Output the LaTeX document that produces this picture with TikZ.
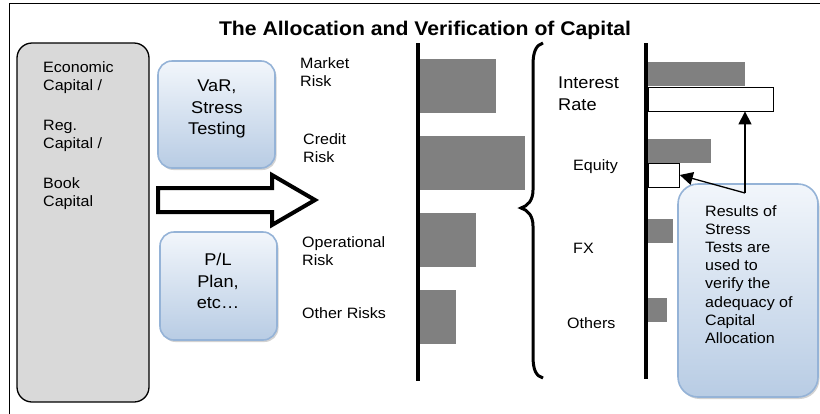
\documentclass[tikz,border=0pt]{standalone}
\usepackage{fontspec}
\setmainfont{Liberation Sans}[FakeStretch=1.07]
\usetikzlibrary{shapes.geometric, arrows.meta, shadows}
\definecolor{capgrey}{RGB}{217,217,217}
\definecolor{bargrey}{RGB}{128,128,128}
\definecolor{boxedge}{RGB}{149,179,215}
\definecolor{boxtop}{RGB}{242,246,251}
\definecolor{boxbottom}{RGB}{184,204,228}
\tikzstyle{capital} = [rectangle, rounded corners=15pt, draw=black, line width=1.3pt, fill=capgrey, minimum width=132pt, minimum height=359pt]
\tikzstyle{method} = [rectangle, rounded corners=14pt, draw=boxedge, line width=1.6pt, top color=boxtop, bottom color=boxbottom, drop shadow={shadow xshift=1.5pt, shadow yshift=-2pt, fill=gray!70}]
\tikzstyle{bar} = [rectangle, fill=bargrey, inner sep=0pt, anchor=west, minimum height=54pt]
\tikzstyle{stressbar} = [rectangle, draw=black, line width=0.8pt, fill=white, inner sep=0pt, anchor=west, minimum height=24pt]
\tikzstyle{txt} = [inner sep=0pt, align=left, font=\fontsize{15}{18.2}\selectfont]
\tikzstyle{bigtxt} = [inner sep=0pt, align=center, font=\fontsize{17}{21.5}\selectfont]
\tikzstyle{axisline} = [line width=4pt]
\tikzstyle{arrow} = [line width=1.3pt,-{Triangle[length=13pt,width=13pt]}]

\begin{document}
\begin{tikzpicture}[x=1pt,y=-1pt]
			\useasboundingbox (0,0) rectangle (820,413);
			\draw [line width=1.3pt] (9.5,420) -- (9.5,3.5) -- (822,3.5);
			\node (title) at (425,35) [anchor=base, inner sep=0pt, font=\bfseries\fontsize{19.8}{24}\selectfont] {The Allocation and Verification of Capital};
			\node (capbox) at (83,222.5) [capital] {};
			\node (econ) at (43,78) [txt, anchor=west] {Economic\\Capital /};
			\node (reg) at (43,135.5) [txt, anchor=west] {Reg.\\Capital /};
			\node (book) at (43,194) [txt, anchor=west] {Book\\Capital};
			\node (var) at (216.5,114.5) [method, minimum width=117pt, minimum height=107pt] {};
			\node (vartext) at (217,109) [bigtxt] {VaR,\\Stress\\Testing};
			\node (plan) at (218.5,286) [method, minimum width=117pt, minimum height=108pt] {};
			\node (plantext) at (218,281) [bigtxt] {P/L\\Plan,\\etc…};
			\draw [line width=4pt, fill=white] (158,188) -- (272,188) -- (272,175) -- (315,200) -- (272,225) -- (272,212) -- (158,212) -- cycle;
			\node (market) at (300,72) [txt, anchor=west] {Market\\Risk};
			\node (credit) at (303,148) [txt, anchor=west] {Credit\\Risk};
			\node (oper) at (302,251) [txt, anchor=west] {Operational\\Risk};
			\node (other) at (302,313) [txt, anchor=west] {Other Risks};
			\draw [axisline] (418,43) -- (418,381);
			\node (mktbar) at (420,86) [bar, minimum width=76pt] {};
			\node (crdbar) at (420,163) [bar, minimum width=105pt] {};
			\node (opbar) at (420,240) [bar, minimum width=56pt] {};
			\node (othbar) at (420,317) [bar, minimum width=36pt] {};
			\draw [line width=3pt] (543,43) .. controls (536,45) and (533,52) .. (533,65) -- (533,190) .. controls (533,200) and (528,206) .. (521,208) .. controls (528,210) and (533,216) .. (533,226) -- (533,356) .. controls (533,370) and (536,376) .. (543,378);
			\node (ir) at (558,93.5) [bigtxt, align=left, anchor=west] {Interest\\Rate};
			\node (equity) at (573,167) [txt, anchor=west] {Equity};
			\node (fx) at (573,248) [txt, anchor=west] {FX};
			\node (others) at (567,323) [txt, anchor=west] {Others};
			\draw [axisline] (646,43) -- (646,379);
			\node (irbar) at (648,74) [bar, minimum width=97pt, minimum height=24pt] {};
			\node (irstress) at (648,99) [stressbar, minimum width=125pt] {};
			\node (eqbar) at (648,150.5) [bar, minimum width=63pt, minimum height=24pt] {};
			\node (eqstress) at (648,175) [stressbar, minimum width=31pt] {};
			\node (fxbar) at (648,231) [bar, minimum width=25pt, minimum height=24pt] {};
			\node (othersbar) at (648,310) [bar, minimum width=19pt, minimum height=24pt] {};
			\node (result) at (748,290.5) [method, rounded corners=20pt, minimum width=140pt, minimum height=213pt] {};
			\node (resulttext) at (705,274.5) [txt, anchor=west] {Results of\\Stress\\Tests are\\used to\\verify the\\adequacy of\\Capital\\Allocation};
			\coordinate (fork) at (745,193);
			\draw [arrow] (fork) -- (fork |- irstress.south);
			\draw [arrow] (fork) -- (eqstress.east);
		\end{tikzpicture}
\end{document}
